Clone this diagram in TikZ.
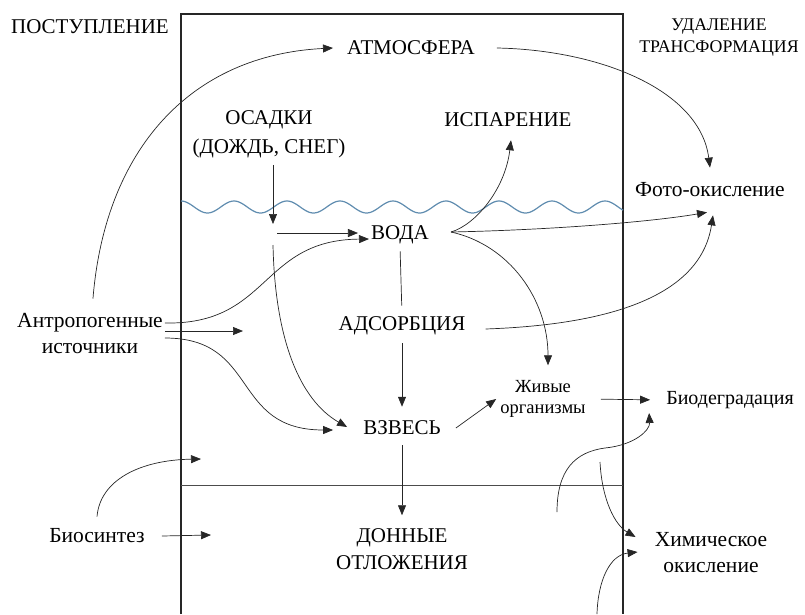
\documentclass[tikz,border=0pt]{standalone}
\usepackage{fontspec}
\setmainfont{Liberation Serif}
\usepackage{xcolor}
\usepackage{tikz}
\usetikzlibrary{arrows.meta,positioning}
\definecolor{wavecol}{RGB}{95,140,175}

\begin{document}
\begin{tikzpicture}[x=1pt, y=-1pt,
  upper/.style={font=\fontsize{21}{27}\selectfont, align=center, inner sep=2pt},
  side/.style={font=\fontsize{21.5}{26}\selectfont, align=center, inner sep=2pt},
  head/.style={font=\fontsize{17.8}{22}\selectfont, align=center, inner sep=2pt},
  note/.style={font=\fontsize{18.5}{21}\selectfont, align=center, inner sep=2pt},
  flow/.style={-{Triangle[length=10pt,width=8pt]}, draw=black!85, line width=0.7pt},
  link/.style={draw=black!85, line width=0.7pt},
  wall/.style={draw=black!85, line width=1.3pt},
  wave/.style={draw=wavecol, line width=1.2pt}
]
  \useasboundingbox (0,0) rectangle (805,614);
  \draw[wall] (181,614) -- (181,14) -- (623,14) -- (623,614);
  \draw[link, draw=black!70] (181,485) -- (623,485);
  \draw[wave] plot[domain=181:623, samples=220, smooth] (\x, {207-6*cos(6.7925*(\x-181))});

  \node[upper] (post)    at (90,27)   {ПОСТУПЛЕНИЕ};
  \node[head]  (udal)    at (719,38)  {УДАЛЕНИЕ\\ТРАНСФОРМАЦИЯ};
  \node[upper] (atm)     at (411,48)  {АТМОСФЕРА};
  \node[upper, font=\fontsize{21}{29}\selectfont] (osadki) at (269,134) {ОСАДКИ\\(ДОЖДЬ, СНЕГ)};
  \node[upper] (isp)     at (508,120) {ИСПАРЕНИЕ};
  \node[side]  (foto)    at (710,190) {Фото-окисление};
  \node[upper] (voda)    at (400,235) {ВОДА};
  \node[upper] (adsorb)  at (402,326) {АДСОРБЦИЯ};
  \node[upper] (vzves)   at (402,428) {ВЗВЕСЬ};
  \node[note]  (zhiv)    at (543,399) {Живые\\организмы};
  \node[side, font=\fontsize{20}{26}\selectfont] (biodeg) at (730,400) {Биодеградация};
  \node[side]  (antro)   at (90,333)  {Антропогенные\\источники};
  \node[side]  (biosint) at (97,536)  {Биосинтез};
  \node[upper] (donn)    at (402,549) {ДОННЫЕ\\ОТЛОЖЕНИЯ};
  \node[side]  (chem)    at (711,553) {Химическое\\окисление};

  \coordinate (rain)    at (273,224);
  \coordinate (mixin)   at (277,233);
  \coordinate (mixout)  at (273,245);
  \coordinate (antroin) at (243,331);
  \coordinate (bioin)   at (211,535);
  \coordinate (bioup)   at (201,459);
  \coordinate (bedup)   at (557,512);
  \coordinate (bedmid)  at (605,448);
  \coordinate (chemtop) at (600,462);
  \coordinate (chembot) at (597,614);
  \coordinate (vodaout) at ([xshift=20pt,yshift=3pt]voda.east);

  \draw[flow, shorten <=12pt] ([xshift=2pt]antro.north) .. controls (105,150) and (190,55) .. ([xshift=-12pt]atm.west);
  \draw[flow] ([xshift=20pt]atm.east) .. controls (600,50) and (700,90) .. ([yshift=13pt]foto.north);
  \draw[flow, shorten <=5pt] (osadki.south -| rain) -- (rain);
  \draw[flow] (mixin) -- ([xshift=-11pt,yshift=2pt]voda.west);
  \draw[flow] ([yshift=10pt]antro.east) .. controls (270,325) and (260,240) .. ([yshift=-4pt]voda.west);
  \draw[flow] ([yshift=2pt]antro.east) -- (antroin);
  \draw[flow] ([yshift=-5pt]antro.east) .. controls (260,338) and (230,430) .. ([xshift=-28pt,yshift=-2pt]vzves.west);
  \draw[flow] (mixout) .. controls (275,340) and (300,400) .. ([xshift=-14pt,yshift=1pt]vzves.west);
  \draw[flow] (vodaout) .. controls (475,225) and (505,190) .. ([xshift=3pt,yshift=-11pt]isp.south);
  \draw[flow] (vodaout) .. controls (550,230) and (650,222) .. ([xshift=-3pt,yshift=-13pt]foto.south);
  \draw[flow] (vodaout) .. controls (510,245) and (548,300) .. ([xshift=5pt,yshift=13pt]zhiv.north);
  \draw[flow] ([xshift=18pt,yshift=-3pt]adsorb.east) .. controls (600,325) and (700,300) .. ([xshift=3pt,yshift=-16pt]foto.south);
  \draw[link, shorten <=5pt, shorten >=9pt] (voda.south) -- (adsorb.north);
  \draw[flow, shorten <=6pt, shorten >=12pt] (adsorb.south) -- (vzves.north);
  \draw[flow, shorten <=8pt, shorten >=11pt] (vzves.south) -- (donn.north);
  \draw[flow] ([xshift=13pt]vzves.east) -- ([xshift=-2pt]zhiv.west);
  \draw[flow, shorten <=13pt, shorten >=14pt] (zhiv.east) -- (biodeg.west);
  \draw[flow] (bedup) .. controls (557,470) and (575,452) .. (bedmid) .. controls (635,445) and (650,430) .. ([xshift=-15pt,yshift=-13pt]biodeg.west);
  \draw[flow] (chemtop) .. controls (602,500) and (615,525) .. ([xshift=-17pt,yshift=16pt]chem.west);
  \draw[flow] (chembot) .. controls (598,580) and (610,555) .. ([xshift=-15pt,yshift=1pt]chem.west);
  \draw[flow] ([yshift=10pt]biosint.north) .. controls (100,480) and (140,460) .. (bioup);
  \draw[flow] ([xshift=15pt]biosint.east) -- (bioin);
\end{tikzpicture}
\end{document}
